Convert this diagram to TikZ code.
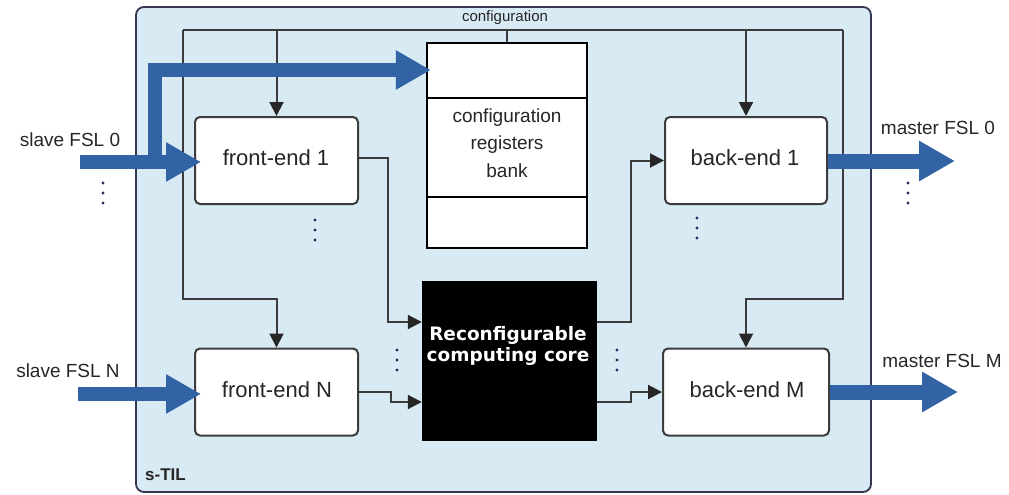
\documentclass[tikz,border=0pt]{standalone}
\usepackage{fontspec}
\setmainfont{Liberation Sans}
\newfontfamily\corefont{DejaVu Sans}
\usetikzlibrary{arrows.meta,calc}
\definecolor{panel}{RGB}{216,234,244}
\definecolor{fslblue}{RGB}{50,100,165}
\definecolor{wire}{RGB}{60,60,60}
\definecolor{dotc}{RGB}{35,45,90}
\newcommand\dotcol[2]{\foreach \k in {0,1,2}{\fill[dotc] (#1,#2+10*\k) circle (1.7);}}

\begin{document}
\begin{tikzpicture}[x=1pt,y=-1pt,
  unitbox/.style={draw=wire, line width=2pt, fill=white, rounded corners=5pt,
    minimum height=87pt, inner sep=0pt},
  wireline/.style={draw=wire, line width=2pt},
  wirearrow/.style={wireline, -{Triangle[length=14pt,width=14pt,color=black!85]}},
  fsl/.style={draw=fslblue, line width=14pt, -{Triangle[length=35pt,width=37pt]}},
  fslm/.style={draw=fslblue, line width=15pt, -{Triangle[length=36pt,width=38pt]}},
  lbl/.style={anchor=base, inner sep=0pt, text=black!85, font=\fontsize{19}{22}\selectfont},
  unittext/.style={text=black!85, font=\fontsize{22}{26}\selectfont}
]
\useasboundingbox (0,0) rectangle (1009,495);

% s-TIL panel
\node[draw=wire!90!blue, line width=1.8pt, fill=panel, rounded corners=8pt,
  minimum width=735pt, minimum height=485pt, inner sep=0pt] (stil) at (503.5,249.5) {};
\node[anchor=base west, inner sep=0pt, text=black!85, font=\fontsize{17}{20}\selectfont\bfseries]
  (stilname) at (145,480) {s-TIL};

% configuration bus
\coordinate (busL) at (183,30);
\coordinate (busR) at (843,30);
\node[anchor=base, inner sep=0pt, text=black!85, font=\fontsize{15}{18}\selectfont] (cfglbl) at (505,22) {configuration};

% functional units
\node[unitbox, minimum width=163pt] (fe1) at (276.5,160.5) {};
\node[unitbox, minimum width=163pt] (feN) at (276.5,392) {};
\node[unitbox, minimum width=162pt] (be1) at (746,160.5) {};
\node[unitbox, minimum width=166pt] (beM) at (746,392) {};
\node[unittext, anchor=base] (fe1t) at (276,165) {front-end 1};
\node[unittext, anchor=base] (feNt) at (277,397) {front-end N};
\node[unittext, anchor=base] (be1t) at (745,165) {back-end 1};
\node[unittext, anchor=base] (beMt) at (747,397) {back-end M};

% configuration registers bank
\node[draw=black, line width=2.4pt, fill=white, minimum width=160pt, minimum height=205pt,
  inner sep=0pt] (regs) at (507,145.5) {};
\draw[black, line width=2.4pt] (regs.west |- 0,98) -- (regs.east |- 0,98);
\draw[black, line width=2.4pt] (regs.west |- 0,197) -- (regs.east |- 0,197);
\node[align=center, text=black!85, font=\fontsize{19}{27.5}\selectfont] (regst) at (507,143)
  {configuration\\registers\\bank};

% reconfigurable computing core
\node[fill=black, minimum width=175pt, minimum height=160pt, inner sep=0pt] (core) at (509.5,361) {};
\node[text=white, align=center, font=\corefont\bfseries\fontsize{18.5}{21}\selectfont] (coret)
  at (508,346) {Reconfigurable\\computing core};

% configuration wiring
\draw[wireline] (busL) -- (busR);
\draw[wireline] (regs.north) -- (regs.north |- busL);
\draw[wirearrow] (fe1.north |- busL) -- (fe1.north);
\draw[wirearrow] (be1.north |- busL) -- (be1.north);
\draw[wirearrow] (busL) -- (183,299) -| (feN.north);
\draw[wirearrow] (busR) -- (843,299) -| (beM.north);

% data paths through the core
\draw[wirearrow] (fe1.east |- 0,158) -- (388,158) -- (388,322) -- (core.west |- 0,322);
\draw[wirearrow] (feN.east) -- (391,392) -- (391,402) -- (core.west |- 0,402);
\draw[wirearrow] (core.east |- 0,322) -- (631,322) |- (be1.west);
\draw[wirearrow] (core.east |- 0,402) -- (631,402) |- (beM.west);

% FSL links
\coordinate (s0) at (80,162);
\coordinate (sN) at (78,394);
\coordinate (m0) at (955,161);
\coordinate (mM) at (958,392);
\draw[fsl] (s0) -- ($(fe1.west |- s0)+(7,0)$);
\draw[fsl, line join=miter] (155,162) -- (155,70) -- ($(regs.west |- 0,70)+(5,0)$);
\draw[fsl] (sN) -- ($(feN.west |- sN)+(7,0)$);
\draw[fslm] (be1.east |- m0) -- (m0);
\draw[fslm] (beM.east |- mM) -- (mM);

\node[lbl] (s0t) at (70,146) {slave FSL 0};
\node[lbl] (sNt) at (68,377) {slave FSL N};
\node[lbl] (m0t) at (938,134) {master FSL 0};
\node[lbl] (mMt) at (942,367) {master FSL M};

% continuation marks
\dotcol{103}{183}
\dotcol{908}{183}
\dotcol{315}{220}
\dotcol{697}{218}
\dotcol{397}{350}
\dotcol{617}{350}
\end{tikzpicture}
\end{document}
